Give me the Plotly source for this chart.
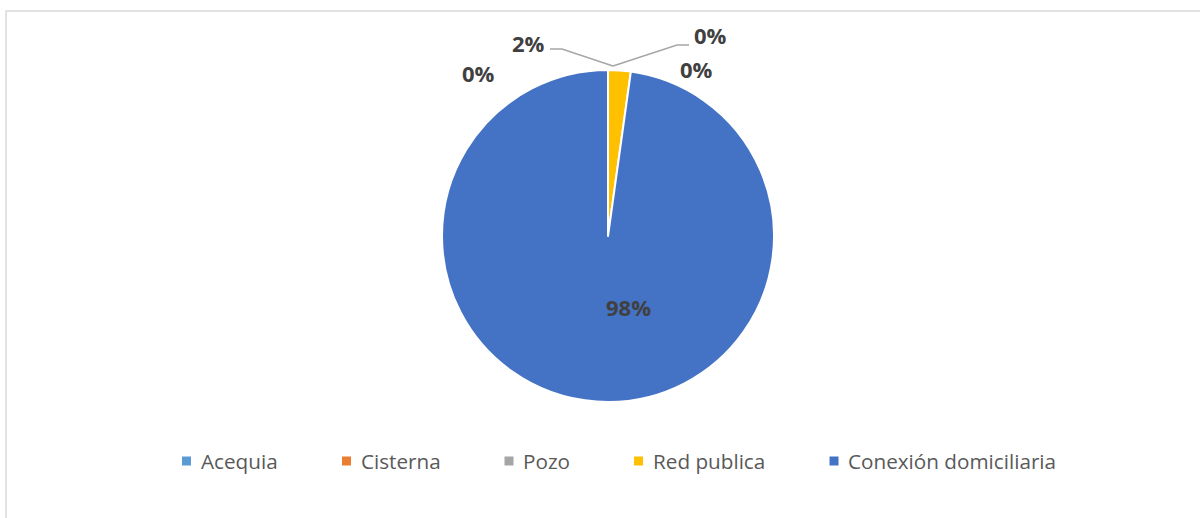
import plotly.graph_objects as go

# ---- data ----
labels = ["Acequia", "Cisterna", "Pozo", "Red publica", "Conexión domiciliaria"]
values = [0, 0, 0, 2.2, 97.8]
colors = ["#5B9BD5", "#ED7D31", "#A5A5A5", "#FFC000", "#4472C4"]

# ---- layout constants (pixels) ----
W, H = 1200, 518
CX, CY, R = 608, 236, 166
# data-label positions (pixel centres) for each slice
label_pos = [(696, 69), (710, 35), (478, 73), (528, 43), (628, 307)]
# leader lines (pixel polylines) for slices whose labels sit away from the pie
leaders = {1: [(689, 45), (677, 45), (613, 66)], 3: [(550, 49), (562, 49), (613, 66)]}
# legend entries: marker centre x
legend_x = [186.5, 346.5, 509, 638.5, 834]
LEG_Y = 461


def px(x):
    return x / W


def py(y):
    return 1 - y / H


fig = go.Figure()
fig.add_trace(go.Pie(
    labels=labels,
    values=values,
    marker=dict(colors=colors, line=dict(color="white", width=2)),
    sort=False,
    direction="clockwise",
    rotation=0,
    textinfo="none",
    hoverinfo="label+percent",
    showlegend=False,
    domain=dict(x=[px(CX - R), px(CX + R)], y=[py(CY + R), py(CY - R)]),
))

total = sum(values)
annotations = []
shapes = []
for i, (lab, v) in enumerate(zip(labels, values)):
    pct = f"{round(v / total * 100):.0f}%"
    x, y = label_pos[i]
    annotations.append(dict(
        x=px(x), y=py(y), xref="paper", yref="paper",
        text=pct, showarrow=False, xanchor="center", yanchor="middle",
        font=dict(family="Open Sans", size=22, color="#404040", weight="bold"),
    ))
for i, pts in leaders.items():
    path = "M " + " L ".join(f"{px(a)},{py(b)}" for a, b in pts)
    shapes.append(dict(type="path", path=path, xref="paper", yref="paper",
                       line=dict(color="#A6A6A6", width=1.5)))

# legend
for i, lab in enumerate(labels):
    mx = legend_x[i]
    shapes.append(dict(type="rect", xref="paper", yref="paper",
                       x0=px(mx - 4.5), x1=px(mx + 4.5),
                       y0=py(LEG_Y + 4.5), y1=py(LEG_Y - 4.5),
                       fillcolor=colors[i], line=dict(width=0)))
    annotations.append(dict(
        x=px(mx + 12), y=py(LEG_Y), xref="paper", yref="paper",
        text=lab, showarrow=False, xanchor="left", yanchor="middle",
        font=dict(family="Open Sans", size=20.7, color="#595959"),
    ))

# chart frame (partly cropped)
shapes.append(dict(type="path", xref="paper", yref="paper",
                   path=f"M {px(6)},{py(H + 5)} L {px(6)},{py(11)} L {px(W + 5)},{py(11)}",
                   line=dict(color="#D9D9D9", width=1.5)))

fig.update_layout(
    width=W, height=H,
    margin=dict(l=0, r=0, t=0, b=0),
    paper_bgcolor="white",
    plot_bgcolor="white",
    annotations=annotations,
    shapes=shapes,
)

fig.write_html("out.html", config={"displayModeBar": False},
               post_script="document.body.style.margin='0';")
